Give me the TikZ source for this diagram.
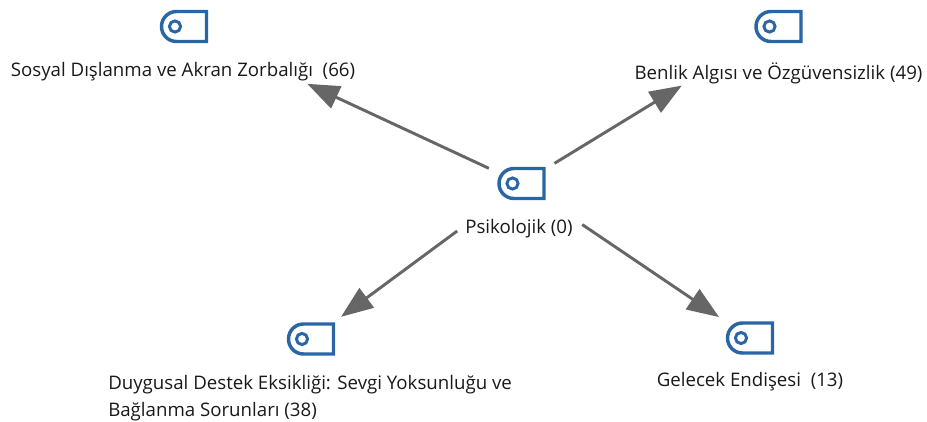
\documentclass[tikz,border=0pt]{standalone}
\usepackage{fontspec}
\setmainfont{Open Sans}
\usetikzlibrary{arrows.meta,positioning}

\definecolor{tagblue}{HTML}{2A66A6}
\definecolor{linkgray}{HTML}{666666}

\tikzset{
  tag/.style={minimum width=36pt,minimum height=25pt,inner sep=0pt},
  txt/.style={font=\fontsize{14pt}{20pt}\selectfont,inner sep=0pt,text=black!90},
  link/.style={draw=linkgray,line width=2.2pt,-{Triangle[length=24pt,width=18pt]}},
  tagmark/.pic={
    \draw[tagblue,line width=2.6pt]
      (22.5,-15) [rounded corners=11.2pt] -- (-22.5,-15) -- (-22.5,15) [sharp corners] -- (22.5,15) -- cycle;
    \draw[tagblue,line width=2.2pt] (-9,0) circle[radius=4.2pt];
  }
}

\begin{document}
\begin{tikzpicture}[x=0.75pt,y=-0.75pt]
  \useasboundingbox (0,0) rectangle (927,421);

  \node[tag] (psi) at (521.5,183.5) {};
  \node[tag] (sos) at (184,26.5) {};
  \node[tag] (ben) at (778.5,26.5) {};
  \node[tag] (duy) at (311,339) {};
  \node[tag] (gel) at (750,338) {};

  \pic at (psi) {tagmark};
  \pic at (sos) {tagmark};
  \pic at (ben) {tagmark};
  \pic at (duy) {tagmark};
  \pic at (gel) {tagmark};

  \node[txt] (psit) at (519,229) {Psikolojik (0)};
  \node[txt] (sost) at (183,72) {Sosyal Dışlanma ve Akran Zorbalığı~~(66)};
  \node[txt] (bent) at (778.5,73) {Benlik Algısı ve Özgüvensizlik (49)};
  \node[txt,align=left,anchor=west] (duyt) at (108,398) {Duygusal Destek Eksikliği: Sevgi Yoksunluğu ve\\Bağlanma Sorunları (38)};
  \node[txt] (gelt) at (750,382) {Gelecek Endişesi~~(13)};

  \draw[link,shorten <=27pt,shorten >=102pt] (psi.center) -- (sos.center);
  \draw[link,shorten <=29pt,shorten >=85pt] (psi.center) -- (ben.center);
  \draw[link,shorten <=60pt,shorten >=28pt] (psi.center) -- (duy.center);
  \draw[link,shorten <=55pt,shorten >=28pt] (psi.center) -- (gel.center);
\end{tikzpicture}
\end{document}
